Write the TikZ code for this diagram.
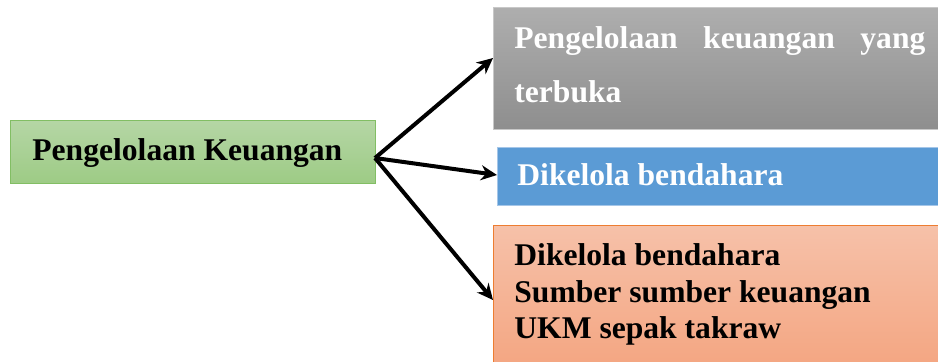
\documentclass[tikz,border=0pt]{standalone}
\usepackage{fontspec}
\setmainfont{Liberation Serif}
\usetikzlibrary{arrows.meta}
\definecolor{gtop}{RGB}{181,214,165}
\definecolor{gbot}{RGB}{157,203,133}
\definecolor{gline}{RGB}{130,190,100}
\definecolor{ytop}{RGB}{174,174,174}
\definecolor{ybot}{RGB}{142,142,142}
\definecolor{yline}{RGB}{200,200,200}
\definecolor{bfill}{RGB}{91,155,213}
\definecolor{bline}{RGB}{165,198,232}
\definecolor{otop}{RGB}{246,193,169}
\definecolor{obot}{RGB}{244,166,130}
\definecolor{oline}{RGB}{237,125,49}
\tikzset{
  box/.style={rectangle, inner sep=0pt, anchor=north west, line width=0.6pt},
  greenbox/.style={box, draw=gline, top color=gtop, bottom color=gbot},
  graybox/.style={box, draw=yline, top color=ytop, bottom color=ybot},
  bluebox/.style={box, draw=bline, fill=bfill},
  orangebox/.style={box, draw=oline, top color=otop, bottom color=obot},
  txt/.style={anchor=base west, inner sep=0pt, font=\fontsize{15.8}{18}\selectfont\bfseries},
  conn/.style={line width=2pt, -{Stealth[length=8pt,width=7.5pt]}}
}
\begin{document}
\begin{tikzpicture}[x=0.5pt,y=-0.5pt]
\useasboundingbox (0,0) rectangle (938,361);
\clip (0,0) rectangle (938,361);
\node[greenbox, minimum width=182.5pt, minimum height=31.5pt] (src) at (10,120) {};
\node[graybox, minimum width=224pt, minimum height=61pt] (gray) at (493,7) {};
\node[bluebox, minimum width=223pt, minimum height=29pt] (blue) at (497,147) {};
\node[orangebox, minimum width=225pt, minimum height=70pt] (orange) at (493,225) {};
\node[txt] (srct) at (32,160) {Pengelolaan Keuangan};
\node[txt, text=white] (grayt1) at (514,48) {\hbox to 205.5pt{Pengelolaan\hfil keuangan\hfil yang}};
\node[txt, text=white] (grayt2) at (514,102) {terbuka};
\node[txt, text=white] (bluet) at (517,185) {Dikelola bendahara};
\node[txt] (oranget1) at (514,265) {Dikelola bendahara};
\node[txt] (oranget2) at (514,302) {Sumber sumber keuangan};
\node[txt] (oranget3) at (514,338) {UKM sepak takraw};
\coordinate (hub) at (375,158);
\draw[conn] (hub) -- (gray.west |- 0,58);
\draw[conn] (hub) -- (blue.west |- 0,175);
\draw[conn] (hub) -- (orange.west |- 0,300);
\end{tikzpicture}
\end{document}
